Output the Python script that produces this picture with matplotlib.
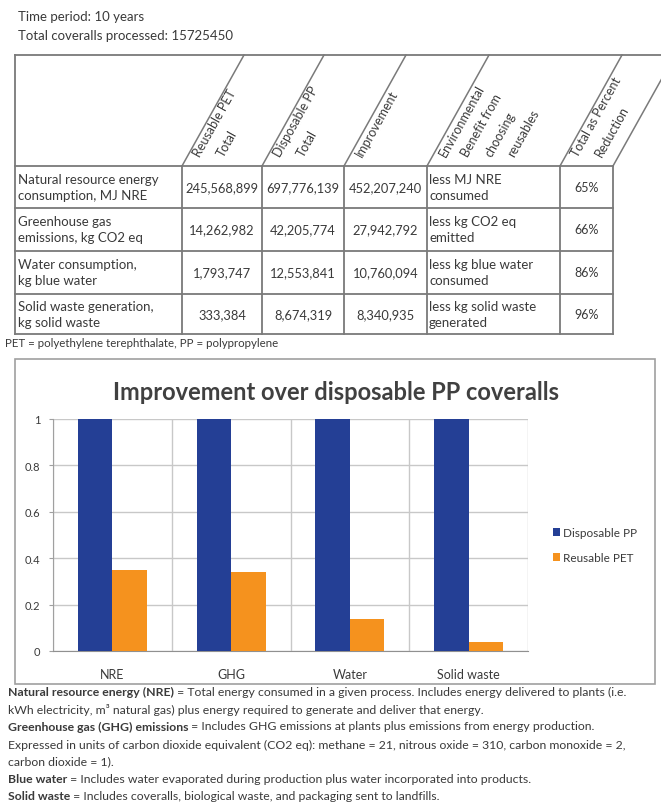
import matplotlib.pyplot as plt
import numpy as np

plt.rcParams['font.family'] = ['Lato', 'DejaVu Sans']

# Header info
period_text = 'Time period: 10 years'
total_text = 'Total coveralls processed: 15725450'

# Table data
row_labels = ['Natural resource energy\nconsumption, MJ NRE',
              'Greenhouse gas\nemissions, kg CO2 eq',
              'Water consumption,\nkg blue water',
              'Solid waste generation,\nkg solid waste']
col_headers = [['Reusable PET', 'Total'], ['Disposable PP', 'Total'], ['Improvement'],
               ['Environmental', 'Benefit from', 'choosing', 'reusables'],
               ['Total as Percent', 'Reduction']]
pet_total = ['245,568,899', '14,262,982', '1,793,747', '333,384']
pp_total = ['697,776,139', '42,205,774', '12,553,841', '8,674,319']
improvement = ['452,207,240', '27,942,792', '10,760,094', '8,340,935']
benefit = ['less MJ NRE\nconsumed', 'less kg CO2 eq\nemitted',
           'less kg blue water\nconsumed', 'less kg solid waste\ngenerated']
pct_reduction = ['65%', '66%', '86%', '96%']
table_note = 'PET = polyethylene terephthalate, PP = polypropylene'

# Chart data
categories = ['NRE', 'GHG', 'Water', 'Solid waste']
disposable_pp = [1, 1, 1, 1]
reusable_pet = [0.35, 0.34, 0.14, 0.04]

# Footnotes (bold prefix, rest)
footnotes = [
    ('Natural resource energy (NRE)', ' = Total energy consumed in a given process. Includes energy delivered to plants (i.e.'),
    ('', 'kWh electricity, m\u00b3 natural gas) plus energy required to generate and deliver that energy.'),
    ('Greenhouse gas (GHG) emissions', ' = Includes GHG emissions at plants plus emissions from energy production.'),
    ('', 'Expressed in units of carbon dioxide equivalent (CO2 eq): methane = 21, nitrous oxide = 310, carbon monoxide = 2,'),
    ('', 'carbon dioxide = 1).'),
    ('Blue water', ' = Includes water evaporated during production plus water incorporated into products.'),
    ('Solid waste', ' = Includes coveralls, biological waste, and packaging sent to landfills.'),
]

W, H = 661, 803
fig = plt.figure(figsize=(W / 100, H / 100), dpi=100)
fig.patch.set_facecolor('white')

# full-figure axes in pixel units for the table and text
bg = fig.add_axes([0, 0, 1, 1])
bg.set_xlim(0, W)
bg.set_ylim(H, 0)
bg.axis('off')

txt = '#3a3a3a'
line_c = '#7a7a7a'
fs = 9.5

bg.text(18, 17, period_text, fontsize=fs, color=txt, va='center')
bg.text(18, 36, total_text, fontsize=fs, color=txt, va='center')

# table geometry
col_x = [15, 182, 262, 344, 427, 560, 613]
row_y = [56, 167, 209, 252, 295, 335]
slant = 62 / 111.0

bg.plot([15, W], [56, 56], color=line_c, lw=1.3)
bg.plot([15, 15], [56, 335], color=line_c, lw=1.3)
for y in row_y[1:]:
    bg.plot([15, 613], [y, y], color=line_c, lw=1.3)
for x in col_x[1:]:
    bg.plot([x, x], [167, 335], color=line_c, lw=1.3)
    bg.plot([x, x + slant * 111], [167, 56], color=line_c, lw=1.1)

# slanted headers, every line starting at the bottom edge
angle = np.degrees(np.arctan2(111, 62))
for i, lines in enumerate(col_headers):
    x0 = col_x[i + 1]
    for j, ln in enumerate(lines):
        bg.text(x0 + 15 + j * 23, 156, ln, fontsize=9, color=txt, rotation=angle,
                rotation_mode='anchor', ha='left', va='center')

# table body
for r in range(4):
    yc = (row_y[r + 1] + row_y[r + 2]) / 2
    bg.text(18, yc, row_labels[r], fontsize=fs, color=txt, va='center', linespacing=1.4)
    bg.text((col_x[1] + col_x[2]) / 2, yc, pet_total[r], fontsize=9.3, color=txt, ha='center', va='center')
    bg.text((col_x[2] + col_x[3]) / 2, yc, pp_total[r], fontsize=9.3, color=txt, ha='center', va='center')
    bg.text((col_x[3] + col_x[4]) / 2, yc, improvement[r], fontsize=9.3, color=txt, ha='center', va='center')
    bg.text(col_x[4] + 2, yc, benefit[r], fontsize=fs, color=txt, va='center', linespacing=1.4)
    bg.text((col_x[5] + col_x[6]) / 2, yc, pct_reduction[r], fontsize=9, color=txt, ha='center', va='center')

bg.text(5, 344, table_note, fontsize=8.3, color=txt, va='center')

# chart frame
bg.add_patch(plt.Rectangle((15, 360), 640, 325, fill=False, edgecolor='#a0a0a0', lw=1.2))
bg.text(336, 393, 'Improvement over disposable PP coveralls', fontsize=17,
        fontweight='bold', color='#404040', ha='center', va='center')

# footnotes
foot_y = [692, 710, 727, 745, 762, 780, 797]
for (b, rest), y in zip(footnotes, foot_y):
    if b:
        t1 = bg.text(8, y, b, fontsize=8.8, fontweight='bold', color=txt, va='center')
        bg.annotate(rest, xy=(1, 0.5), xycoords=t1, fontsize=8.8, color=txt, va='center', ha='left')
    else:
        bg.text(8, y, rest, fontsize=8.8, color=txt, va='center')

# bar chart
ax = fig.add_axes([53 / W, 1 - 652 / H, 475 / W, 232 / H])
x = np.arange(len(categories))
bw = 0.29
ax.bar(x - 0.145, disposable_pp, bw, color='#243f95', label='Disposable PP', zorder=3)
ax.bar(x + 0.145, reusable_pet, bw, color='#f5921e', label='Reusable PET', zorder=3)
ax.set_xlim(-0.5, 3.5)
ax.set_ylim(0, 1)
ax.set_yticks([0, 0.2, 0.4, 0.6, 0.8, 1])
ax.set_yticklabels(['0', '0.2', '0.4', '0.6', '0.8', '1'], fontsize=8, color=txt)
ax.set_xticks(x)
ax.set_xticklabels(categories, fontsize=9, color=txt)
ax.set_xticks(np.arange(-0.5, 4, 1), minor=True)
ax.tick_params(axis='x', which='major', length=0, pad=12)
ax.tick_params(axis='x', which='minor', length=0)
ax.tick_params(axis='y', length=3, color='#a0a0a0', pad=6)
ax.grid(True, axis='y', color='#c8c8c8', lw=1, zorder=0)
ax.grid(True, axis='x', which='minor', color='#c8c8c8', lw=1, zorder=0)
for s in ['top', 'right']:
    ax.spines[s].set_visible(False)
ax.spines['left'].set_color('#a0a0a0')
ax.spines['bottom'].set_color('#909090')
ax.set_facecolor('white')

ax.legend(loc='center left', bbox_to_anchor=(542 / W, 1 - 546 / H), bbox_transform=fig.transFigure,
          frameon=False, fontsize=8.5, handlelength=0.6, handleheight=0.6, handletextpad=0.3,
          labelspacing=1.2, labelcolor=txt)

fig.savefig('out.png', dpi=100)
